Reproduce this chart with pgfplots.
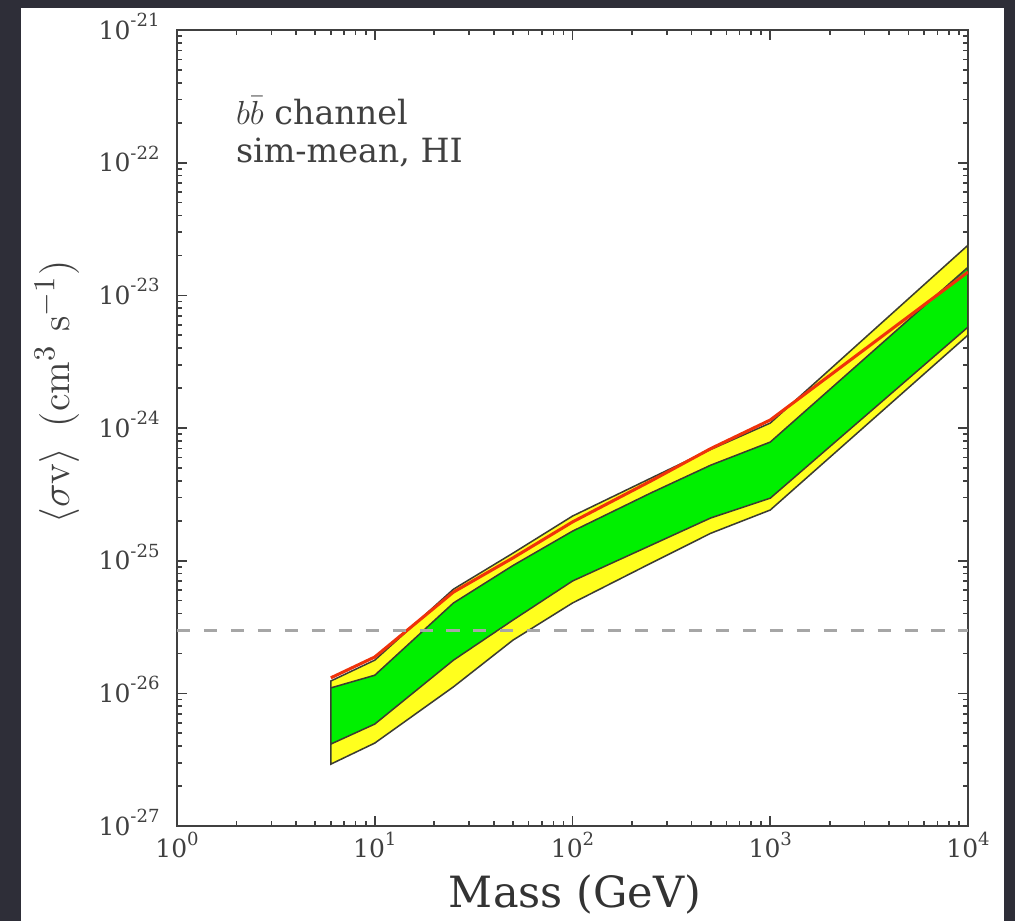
\documentclass[border=0pt]{standalone}
\usepackage{pgfplots}
\pgfplotsset{compat=1.18}
\usepackage[no-math]{fontspec}
\setmainfont{DejaVu Serif}
\definecolor{bgdark}{RGB}{46,46,56}
\definecolor{redline}{RGB}{240,50,10}
\definecolor{yfill}{RGB}{255,255,30}
\definecolor{gfill}{RGB}{0,240,0}
\definecolor{edge}{RGB}{60,60,50}
\newcommand\tl[1]{10\raisebox{4.6pt}{\fontsize{6.5}{6.5}\selectfont #1}}

\begin{document}
\begin{tikzpicture}
\useasboundingbox (0,0) rectangle (365.4pt,331.56pt);
\fill[bgdark] (0,0) rectangle (365.4pt,331.56pt);
\fill[white] (7.56pt,0) rectangle (361.44pt,328.68pt);
\begin{axis}[
  at={(63.72pt,34.2pt)}, anchor=south west,
  scale only axis, width=284.76pt, height=286.56pt,
  xmode=log, ymode=log,
  xmin=1, xmax=1e4, ymin=1e-27, ymax=1e-21,
  xtick={1,10,100,1000,10000},
  xticklabels={\tl{0},\tl{1},\tl{2},\tl{3},\tl{4}},
  ytick={1e-27,1e-26,1e-25,1e-24,1e-23,1e-22,1e-21},
  yticklabels={\tl{-27},\tl{-26},\tl{-25},\tl{-24},\tl{-23},\tl{-22},\tl{-21}},
  minor xtick={2,3,4,5,6,7,8,9,20,30,40,50,60,70,80,90,200,300,400,500,600,700,800,900,2000,3000,4000,5000,6000,7000,8000,9000},
  minor ytick={2e-27,3e-27,4e-27,5e-27,6e-27,7e-27,8e-27,9e-27,
               2e-26,3e-26,4e-26,5e-26,6e-26,7e-26,8e-26,9e-26,
               2e-25,3e-25,4e-25,5e-25,6e-25,7e-25,8e-25,9e-25,
               2e-24,3e-24,4e-24,5e-24,6e-24,7e-24,8e-24,9e-24,
               2e-23,3e-23,4e-23,5e-23,6e-23,7e-23,8e-23,9e-23,
               2e-22,3e-22,4e-22,5e-22,6e-22,7e-22,8e-22,9e-22},
  tick align=inside, major tick length=3.5pt, minor tick length=1.8pt,
  every tick/.style={black!75, line width=0.6pt},
  axis line style={black!75, line width=0.9pt},
  xticklabel style={anchor=base, inner sep=0pt, yshift=-11.5pt, font=\fontsize{9}{9}\selectfont, text=black!75},
  yticklabel style={anchor=base east, inner sep=0pt, xshift=-6.1pt, yshift=-3.3pt, font=\fontsize{9}{9}\selectfont, text=black!75},
  clip=true,
]
% 2 sigma band (yellow): upper edge then lower edge reversed
\addplot[fill=yfill, draw=edge, line width=0.55pt] coordinates {
  (6,1.24e-26) (10,1.78e-26) (25,6.1e-26) (50,1.14e-25) (100,2.17e-25) (250,4.2e-25) (500,6.9e-25) (1000,1.09e-24) (10000,2.39e-23)
  (10000,5.02e-24) (1000,2.41e-25) (500,1.61e-25) (250,9.6e-26) (100,4.80e-26) (50,2.52e-26) (25,1.12e-26) (10,4.22e-27) (6,2.93e-27)
} -- cycle;
% 1 sigma band (green)
\addplot[fill=gfill, draw=edge, line width=0.55pt] coordinates {
  (6,1.10e-26) (10,1.37e-26) (25,4.8e-26) (50,9.2e-26) (100,1.67e-25) (250,3.25e-25) (500,5.25e-25) (1000,7.84e-25) (10000,1.63e-23)
  (10000,5.77e-24) (1000,2.96e-25) (500,2.10e-25) (250,1.31e-25) (100,7.03e-26) (50,3.57e-26) (25,1.78e-26) (10,5.87e-27) (6,4.15e-27)
} -- cycle;
% observed limit (red)
\addplot[redline, line width=1.1pt] coordinates {
  (6,1.31e-26) (10,1.88e-26) (25,5.8e-26) (50,1.05e-25) (100,1.96e-25) (250,4.0e-25) (500,7.0e-25) (1000,1.15e-24) (10000,1.50e-23)
};
% thermal relic cross section
\addplot[black!35, line width=1.1pt, dash pattern=on 4.7pt off 5pt] coordinates {(1,3e-26) (10000,3e-26)};
\node[anchor=base west, inner sep=0pt, text=black!75, font=\fontsize{12}{12}\selectfont] at (axis description cs:0.074,0.881) {$b\bar{b}$ channel};
\node[anchor=base west, inner sep=0pt, text=black!75, font=\fontsize{12}{12}\selectfont] at (axis description cs:0.074,0.833) {sim-mean, HI};
\end{axis}
\node[rotate=90, anchor=center, text=black!75, font=\fontsize{15.5}{18}\selectfont] at (20.5pt,190.4pt) {$\left\langle\sigma\mathrm{v}\right\rangle\ (\mathrm{cm}^3\ \mathrm{s}^{-1})$};
\node[anchor=base, inner sep=0pt, text=black!80, font=\fontsize{15.5}{18}\selectfont] at (207pt,4.7pt) {Mass (GeV)};
\end{tikzpicture}
\end{document}
